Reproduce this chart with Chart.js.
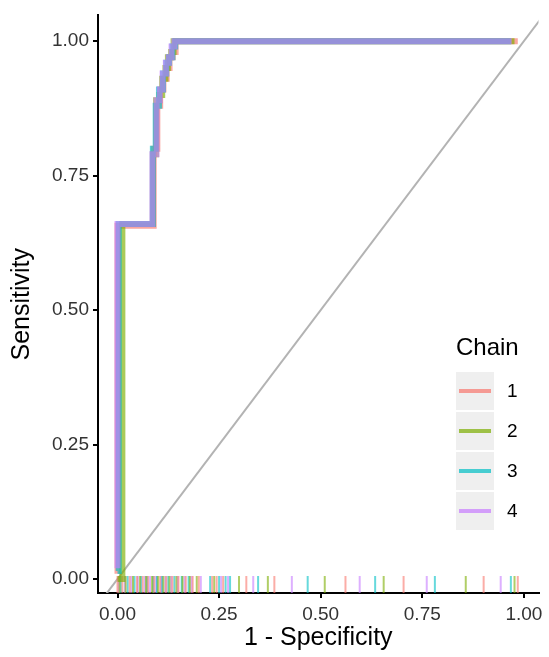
<!DOCTYPE html>
<html>
<head>
<meta charset="utf-8">
<script src="https://cdn.jsdelivr.net/npm/chart.js@4.4.1/dist/chart.umd.min.js"></script>
<style>
  body { margin: 0; background: #fff; }
  #wrap { position: relative; width: 549px; height: 657px; }
  #legend { position: absolute; left: 456px; top: 333px; font-family: "Liberation Sans", Arial, sans-serif; }
  #legend .ttl { font-size: 24px; color: #000; height: 38px; }
  #legend .row { display: flex; align-items: center; height: 40px; }
  #legend .key { width: 38px; height: 38px; background: #efefef; position: relative; }
  #legend .key span { position: absolute; left: 3px; right: 3px; top: 17px; height: 4px; }
  #legend .lab { font-size: 19px; margin-left: 13px; color: #000; }
</style>
</head>
<body>
<div id="wrap">
  <canvas id="rocCanvas" width="549" height="657"></canvas>
  <div id="legend"></div>
</div>
<script>
// chain labels and colours (ggplot hue palette)
var chains = ['1', '2', '3', '4'];
var chainColors = ['248,118,109', '124,174,0', '0,191,196', '199,124,255'];

// ROC curve vertices per chain (1 - specificity, sensitivity)
var fpr1 = [0, 0, 0.089, 0.098, 0.105, 0.113, 0.121, 0.128, 0.136, 0.143, 0.985];
var tpr1 = [0.01, 0.657, 0.80, 0.88, 0.91, 0.93, 0.95, 0.97, 0.98, 1.00, 1.00];
var fpr2 = [0, 0.012, 0.087, 0.095, 0.103, 0.110, 0.118, 0.124, 0.132, 0.138, 0.977];
var tpr2 = [0.00, 0.66, 0.79, 0.89, 0.90, 0.93, 0.95, 0.97, 0.98, 1.00, 1.00];
var fpr3 = [0, 0.003, 0.087, 0.094, 0.102, 0.112, 0.120, 0.127, 0.135, 0.142, 0.968];
var tpr3 = [0.015, 0.66, 0.80, 0.88, 0.91, 0.94, 0.96, 0.97, 0.99, 1.00, 1.00];
var fpr4 = [0, 0, 0.086, 0.096, 0.104, 0.111, 0.119, 0.126, 0.133, 0.140, 0.970];
var tpr4 = [0.02, 0.66, 0.79, 0.89, 0.91, 0.94, 0.96, 0.97, 0.99, 1.00, 1.00];

// rug positions along the x axis per chain
var rug1 = [0.0, 0.012, 0.03, 0.048, 0.062, 0.075, 0.09, 0.105, 0.12, 0.135, 0.15, 0.168, 0.185, 0.2, 0.233, 0.244, 0.26, 0.317, 0.386, 0.561, 0.704, 0.901, 0.985];
var rug2 = [0.005, 0.02, 0.038, 0.055, 0.07, 0.085, 0.1, 0.113, 0.128, 0.145, 0.16, 0.178, 0.195, 0.238, 0.299, 0.37, 0.51, 0.655, 0.857, 0.977];
var rug3 = [0.008, 0.025, 0.042, 0.058, 0.073, 0.088, 0.097, 0.11, 0.125, 0.14, 0.158, 0.175, 0.228, 0.25, 0.266, 0.277, 0.346, 0.468, 0.634, 0.781, 0.968];
var rug4 = [0.003, 0.018, 0.034, 0.05, 0.067, 0.08, 0.095, 0.108, 0.118, 0.132, 0.148, 0.165, 0.182, 0.205, 0.255, 0.272, 0.334, 0.429, 0.596, 0.761, 0.943];

var tickVals = [0, 0.25, 0.5, 0.75, 1];

var fprs = [fpr1, fpr2, fpr3, fpr4];
var tprs = [tpr1, tpr2, tpr3, tpr4];
var rugs = [rug1, rug2, rug3, rug4];
var rugY = -0.0103;
var font = '"Liberation Sans", Arial, sans-serif';

var datasets = [];
// ROC curves, chain 4 on top
for (var i = 0; i < chains.length; i++) {
    var pts = [];
    for (var j = 0; j < fprs[i].length; j++) pts.push({ x: fprs[i][j], y: tprs[i][j] });
    datasets.push({
        type: 'line',
        label: chains[i],
        data: pts,
        stepped: 'before',
        borderColor: 'rgba(' + chainColors[i] + ',0.65)',
        borderWidth: 6,
        pointRadius: 0,
        fill: false,
        order: 10 - i
    });
}
// rugs
for (var i = 0; i < chains.length; i++) {
    datasets.push({
        type: 'scatter',
        label: 'rug' + chains[i],
        data: rugs[i].map(function (v) { return { x: v, y: rugY }; }),
        pointStyle: 'line',
        rotation: 90,
        radius: 8.5,
        borderWidth: 2,
        borderColor: 'rgba(' + chainColors[i] + ',0.6)',
        order: 20
    });
}
// reference diagonal
datasets.push({
    type: 'line',
    label: 'diag',
    data: [{ x: -0.1, y: -0.1 }, { x: 1.1, y: 1.1 }],
    borderColor: '#b3b3b3',
    borderWidth: 2,
    pointRadius: 0,
    order: 30
});

const ctx = document.getElementById('rocCanvas').getContext('2d');
const rocChart = new Chart(ctx, {
    data: { datasets: datasets },
    options: {
        responsive: false,
        animation: false,
        events: [],
        layout: { padding: { top: 14, right: 7, left: 0, bottom: 0 } },
        plugins: { legend: { display: false }, tooltip: { enabled: false } },
        scales: {
            x: {
                type: 'linear',
                min: -0.048,
                max: 1.036,
                afterBuildTicks: function (s) { s.ticks = tickVals.map(function (v) { return { value: v }; }); },
                afterFit: function (s) { s.height = 64; },
                ticks: {
                    callback: function (v) { return v.toFixed(2); },
                    font: { family: font, size: 19 },
                    color: '#333',
                    padding: 5,
                    maxRotation: 0
                },
                grid: { drawOnChartArea: false, drawTicks: true, tickLength: 5, color: '#000', lineWidth: 2 },
                border: { display: true, color: '#000', width: 2 },
                title: { display: true, text: '1 - Specificity', font: { family: font, size: 25 }, color: '#000', padding: { top: 0, bottom: 4 } }
            },
            y: {
                type: 'linear',
                min: -0.026,
                max: 1.048,
                afterBuildTicks: function (s) { s.ticks = tickVals.map(function (v) { return { value: v }; }); },
                afterFit: function (s) { s.width = 98; },
                ticks: {
                    callback: function (v) { return v.toFixed(2); },
                    font: { family: font, size: 19 },
                    color: '#333',
                    padding: 4
                },
                grid: { drawOnChartArea: false, drawTicks: true, tickLength: 5, color: '#000', lineWidth: 2 },
                border: { display: true, color: '#000', width: 2 },
                title: { display: true, text: 'Sensitivity', font: { family: font, size: 25 }, color: '#000', padding: { top: 7, bottom: 0 } }
            }
        }
    }
});

// ggplot-style legend
var lg = document.getElementById('legend');
var html = '<div class="ttl">Chain</div>';
for (var i = 0; i < chains.length; i++) {
    html += '<div class="row"><div class="key"><span style="background:rgba(' + chainColors[i] + ',0.7)"></span></div><div class="lab">' + chains[i] + '</div></div>';
}
lg.innerHTML = html;
</script>
</body>
</html>
